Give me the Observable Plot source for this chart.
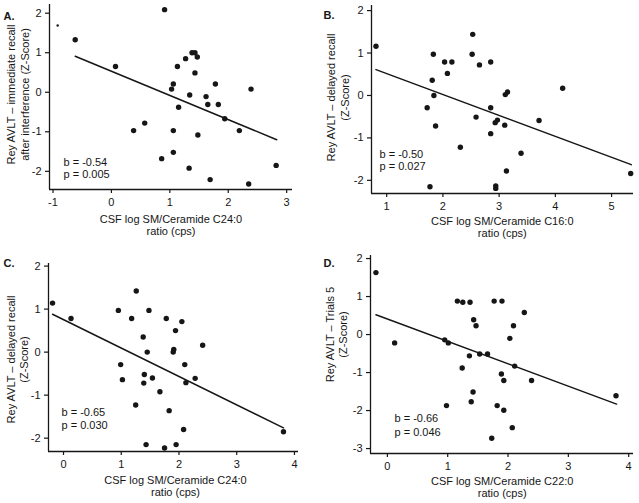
<!DOCTYPE html>
<html><head><meta charset="utf-8">
<script src="https://cdn.jsdelivr.net/npm/d3@7"></script>
<script src="https://cdn.jsdelivr.net/npm/@observablehq/plot@0.6"></script>
<style>
body{margin:0;background:#fff;}
#root{position:relative;width:639px;height:503px;overflow:hidden;background:#fff;}
.panel{position:absolute;}
</style></head><body><div id="root"></div>
<script>
// ---- Data ----
const aX = [-0.62, 0.07, 0.91, 0.38, 0.57, 0.86, 1.03, 1.06, 1.13, 1.15, 1.06, 1.06, 1.27, 1.34, 1.33, 1.38, 1.43, 1.43, 1.47, 1.48, 1.62, 1.65, 1.69, 1.78, 1.83, 1.94, 2.19, 2.39, 2.35, 2.82];
const aY = [1.33, 0.65, 2.09, -0.97, -0.78, -1.68, 0.08, 0.21, 0.65, -0.38, -0.97, -1.52, 0.85, -0.07, -1.92, 1.0, 1.0, 0.49, 0.89, -1.08, -0.11, -0.31, -2.21, 0.21, -0.31, -0.67, -0.97, 0.08, -2.32, -1.85];
const aSmallX = [-0.92];
const aSmallY = [1.69];
const aFitX = [-0.62, 2.83];
const aFitY = [0.91, -1.20];

const bX = [0.81, 1.83, 1.81, 1.84, 1.72, 1.87, 1.77, 2.03, 2.16, 2.08, 2.31, 2.53, 2.52, 2.65, 2.59, 2.85, 2.85, 2.85, 2.93, 2.97, 2.94, 2.94, 3.11, 3.15, 3.10, 3.13, 3.39, 3.71, 4.13, 5.34];
const bY = [1.16, 0.97, 0.36, 0.0, -0.29, -0.72, -2.15, 0.79, 0.79, 0.52, -1.22, 1.44, 0.97, 0.72, -0.51, 0.79, -0.29, -0.90, -0.64, -0.58, -2.13, -2.19, 0.02, 0.08, -0.70, -1.78, -1.36, -0.59, 0.17, -1.84];
const bFitX = [0.81, 5.35];
const bFitY = [0.61, -1.63];

const cX = [-0.19, 0.13, 0.95, 0.99, 1.02, 1.18, 1.26, 1.25, 1.38, 1.39, 1.40, 1.45, 1.43, 1.48, 1.54, 1.67, 1.75, 1.78, 1.83, 1.90, 1.91, 1.94, 1.95, 2.05, 2.08, 2.10, 2.12, 2.28, 2.41, 3.81];
const cY = [1.14, 0.78, 0.97, -0.29, -0.64, 0.78, 1.42, -1.23, 0.35, -0.72, -0.52, 0.0, -2.15, 0.97, -0.60, -0.92, -2.23, 0.78, -1.36, 0.0, 0.06, 0.50, -2.15, 0.71, -1.80, -0.29, -0.71, -0.61, 0.16, -1.85];
const cFitX = [-0.19, 3.81];
const cFitY = [0.88, -1.76];

const dX = [-0.19, 0.12, 0.98, 0.95, 1.01, 1.16, 1.25, 1.24, 1.37, 1.36, 1.39, 1.43, 1.47, 1.42, 1.53, 1.66, 1.73, 1.77, 1.82, 1.90, 1.89, 1.93, 1.93, 2.03, 2.09, 2.11, 2.07, 2.27, 2.39, 3.79];
const dY = [1.63, -0.22, -1.87, -0.14, -0.22, 0.88, 0.85, -0.88, 0.85, -0.56, -1.77, 0.39, 0.23, -1.51, -0.51, -0.51, -2.73, 0.88, -1.87, 0.88, -1.04, -1.21, -1.99, -0.10, 0.23, -0.83, -2.45, 0.58, -1.21, -1.61];
const dFitX = [-0.19, 3.80];
const dFitY = [0.52, -1.83];

const aXTicks = [-1, 0, 1, 2, 3];
const bXTicks = [1, 2, 3, 4, 5];
const cXTicks = [0, 1, 2, 3, 4];
const dXTicks = [0, 1, 2, 3, 4];
const yTicksABC = [-2, -1, 0, 1, 2];
const yTicksD = [-3, -2, -1, 0, 1, 2];

const letters = ["A.", "B.", "C.", "D."];
const xLabels = [
  "CSF log SM/Ceramide C24:0\nratio (cps)",
  "CSF log SM/Ceramide C16:0\nratio (cps)",
  "CSF log SM/Ceramide C24:0\nratio (cps)",
  "CSF log SM/Ceramide C22:0\nratio (cps)"
];
const yLabels = [
  "Rey AVLT \u2013 immediate recall\nafter interference (Z-Score)",
  "Rey AVLT \u2013 delayed recall\n(Z-Score)",
  "Rey AVLT \u2013 delayed recall\n(Z-Score)",
  "Rey AVLT \u2013 Trials 5\n(Z-Score)"
];
const stats = ["b = -0.54\np = 0.005", "b = -0.50\np = 0.027", "b = -0.65\np = 0.030", "b = -0.66\np = 0.046"];

// ---- Layout ----
const FONT = '"Liberation Sans", Arial, Helvetica, sans-serif';
const INK = "#161616";
const panels = [
  {left: 0, top: 0, width: 319, height: 250, m: {l: 49, r: 27, t: 4, b: 61},
   xDomain: [-1.06, 3.1], yDomain: [-2.46, 2.22], xTicks: aXTicks, yTicks: yTicksABC,
   xs: aX, ys: aY, fitX: aFitX, fitY: aFitY, smallX: aSmallX, smallY: aSmallY,
   letterPos: [3, 11.5], yLabPos: [17, 94], xLabPos: [170.5, 225], statPos: [63, 168], statLH: 1.1},
  {left: 320, top: 0, width: 319, height: 250, m: {l: 51, r: 6, t: 5, b: 57},
   xDomain: [0.73, 5.39], yDomain: [-2.31, 2.12], xTicks: bXTicks, yTicks: yTicksABC,
   xs: bX, ys: bY, fitX: bFitX, fitY: bFitY,
   letterPos: [3, 10.5], yLabPos: [17, 97], xLabPos: [181.8, 227], statPos: [59, 159.5], statLH: 1.12},
  {left: 0, top: 250, width: 319, height: 253, m: {l: 48, r: 21, t: 13, b: 52},
   xDomain: [-0.26, 4.07], yDomain: [-2.31, 2.06], xTicks: cXTicks, yTicks: yTicksABC,
   xs: cX, ys: cY, fitX: cFitX, fitY: cFitY,
   letterPos: [3, 8.5], yLabPos: [16.5, 109], xLabPos: [175, 236], statPos: [61, 168], statLH: 1.12},
  {left: 320, top: 250, width: 319, height: 253, m: {l: 50, r: 6, t: 5, b: 50},
   xDomain: [-0.28, 4.08], yDomain: [-3.13, 2.08], xTicks: dXTicks, yTicks: yTicksD,
   xs: dX, ys: dY, fitX: dFitX, fitY: dFitY,
   letterPos: [3, 8.5], yLabPos: [15.5, 84], xLabPos: [181.7, 236.5], statPos: [74, 174], statLH: 1.3}
];

const root = document.getElementById("root");
panels.forEach((p, i) => {
  const m = p.m;
  const rel = ([px, py]) => ({frameAnchor: "top-left", dx: px - m.l, dy: py - m.t});
  const pts = p.xs.map((x, k) => ({x, y: p.ys[k]}));
  const fit = p.fitX.map((x, k) => ({x, y: p.fitY[k]}));
  const marks = [
    Plot.ruleX([p.xDomain[0]], {stroke: INK, strokeWidth: 1.3}),
    Plot.ruleY([p.yDomain[0]], {stroke: INK, strokeWidth: 1.3}),
    Plot.axisX({ticks: p.xTicks, tickSize: 4, tickPadding: 5, tickFormat: d => String(d), label: null, stroke: INK, strokeWidth: 1.2, fill: INK}),
    Plot.axisY({ticks: p.yTicks, tickSize: 4, tickPadding: 4, tickFormat: d => String(d), label: null, stroke: INK, strokeWidth: 1.2, fill: INK}),
    Plot.line(fit, {x: "x", y: "y", stroke: INK, strokeWidth: 1.5}),
    Plot.dot(pts, {x: "x", y: "y", r: 2.7, fill: INK, stroke: "none"}),
    Plot.text([letters[i]], {text: d => d, ...rel(p.letterPos), textAnchor: "start", fontWeight: "bold", fontSize: 11, fill: INK}),
    Plot.text([yLabels[i]], {text: d => d, ...rel(p.yLabPos), rotate: -90, textAnchor: "middle", lineAnchor: "middle", lineHeight: 1.25, fontSize: 11, fill: INK}),
    Plot.text([xLabels[i]], {text: d => d, ...rel(p.xLabPos), textAnchor: "middle", lineAnchor: "middle", lineHeight: 1.08, fontSize: 11, fill: INK}),
    Plot.text([stats[i]], {text: d => d, ...rel(p.statPos), textAnchor: "start", lineAnchor: "middle", lineHeight: p.statLH, fontSize: 11, fill: INK})
  ];
  if (p.smallX) {
    const sp = p.smallX.map((x, k) => ({x, y: p.smallY[k]}));
    marks.push(Plot.dot(sp, {x: "x", y: "y", r: 1.2, fill: INK, stroke: "none"}));
  }
  const chart = Plot.plot({
    width: p.width, height: p.height,
    marginLeft: m.l, marginRight: m.r, marginTop: m.t, marginBottom: m.b,
    x: {domain: p.xDomain}, y: {domain: p.yDomain},
    style: {fontFamily: FONT, fontSize: "11px", background: "white", color: INK, overflow: "visible"},
    marks
  });
  const div = document.createElement("div");
  div.className = "panel";
  div.style.left = p.left + "px";
  div.style.top = p.top + "px";
  div.appendChild(chart);
  root.appendChild(div);
});
</script>
</body></html>
